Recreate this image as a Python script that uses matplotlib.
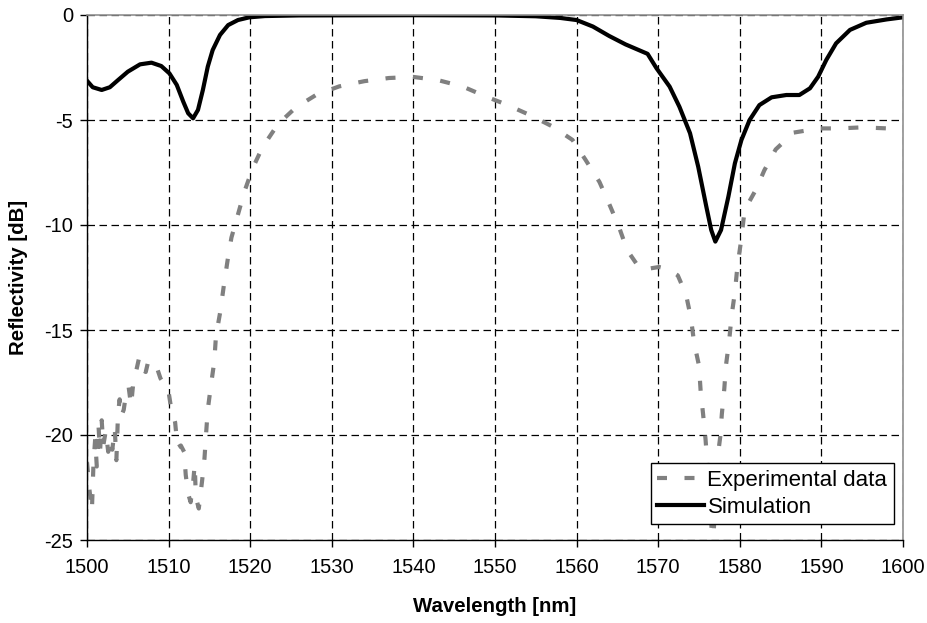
import matplotlib
matplotlib.use("Agg")
import matplotlib.pyplot as plt
import numpy as np

plt.rcParams['font.family'] = ['Liberation Sans', 'DejaVu Sans']
plt.rcParams['axes.unicode_minus'] = False

exp_wl = [1500.0, 1500.3, 1500.6, 1500.8, 1501.0, 1501.2, 1501.4, 1501.6, 1501.8, 1502.0,
          1502.3, 1502.6, 1502.9, 1503.1, 1503.4, 1503.6, 1503.8, 1504.0, 1504.2, 1504.5,
          1504.8, 1505.1, 1505.4, 1505.7, 1506.0, 1506.4, 1506.8, 1507.2, 1507.5, 1508.0,
          1508.4, 1509.0, 1509.5, 1509.9, 1510.3, 1510.8, 1511.1, 1511.5, 1511.9, 1512.1,
          1512.4, 1512.7, 1513.0, 1513.2, 1513.3, 1513.5, 1513.7, 1514.1, 1514.4, 1514.6,
          1514.8, 1515.2, 1515.6, 1515.8, 1516.3, 1516.8, 1517.3, 1517.7, 1518.5, 1519.3,
          1520.3, 1521.5, 1523.4, 1525.6, 1528.1, 1530.9, 1534.0, 1537.0, 1540.0, 1543.0,
          1546.0, 1549.0, 1551.3, 1554.2, 1557.0, 1559.5, 1561.1, 1562.8, 1564.0, 1565.2,
          1566.2, 1567.7, 1568.5, 1570.1, 1571.2, 1572.4, 1573.4, 1574.0, 1574.4, 1575.0,
          1575.2, 1575.5, 1575.8, 1576.1, 1576.4, 1576.7, 1577.0, 1577.2, 1577.6, 1577.8,
          1578.1, 1578.3, 1578.7, 1579.0, 1579.4, 1579.7, 1580.1, 1580.5, 1581.0, 1582.0,
          1583.0, 1584.4, 1586.6, 1589.7, 1592.2, 1595.0, 1598.1, 1599.5]
exp_db = [-21.3, -22.6, -23.6, -21.3, -20.2, -21.5, -19.5, -20.8, -19.3, -20.5,
          -19.8, -20.8, -20.2, -20.7, -19.7, -21.2, -19.0, -18.3, -19.1, -18.8,
          -18.0, -17.7, -18.6, -17.4, -17.0, -16.3, -16.9, -17.0, -16.5, -16.6,
          -16.6, -17.3, -17.6, -17.7, -18.7, -19.4, -20.6, -20.5, -20.8, -21.9,
          -22.8, -23.2, -22.3, -21.4, -22.5, -23.2, -23.5, -22.2, -21.1, -19.9,
          -18.8, -17.6, -16.5, -15.3, -14.2, -12.8, -11.5, -10.6, -9.5, -8.4,
          -7.3, -6.3, -5.2, -4.4, -3.8, -3.4, -3.15, -3.0, -2.95, -3.1,
          -3.4, -3.9, -4.25, -4.75, -5.3, -5.95, -6.9, -7.95, -9.0, -10.1,
          -11.2, -12.05, -12.1, -12.0, -12.1, -12.4, -13.3, -14.4, -15.6, -16.7,
          -17.9, -19.0, -20.2, -21.8, -23.5, -25.5, -23.0, -21.3, -20.1, -19.0,
          -17.8, -16.7, -15.5, -14.3, -13.2, -12.0, -10.9, -9.6, -9.0, -8.3,
          -7.4, -6.4, -5.6, -5.4, -5.4, -5.35, -5.4, -5.35]

# simulation
sim_wl = [1500.0, 1500.7, 1501.8, 1502.8, 1503.8, 1505.0, 1506.5, 1507.9, 1509.1, 1510.1,
          1511.0, 1511.8, 1512.4, 1513.0, 1513.6, 1514.2, 1514.8, 1515.4, 1516.3, 1517.3,
          1518.5, 1519.9, 1521.8, 1526.0, 1540.0, 1550.0, 1555.0, 1558.0, 1560.0, 1562.0,
          1564.0, 1566.0, 1568.7, 1569.8, 1571.4, 1572.6, 1573.9, 1574.9, 1575.9, 1576.5,
          1577.0, 1577.7, 1578.6, 1579.4, 1580.2, 1581.2, 1582.4, 1583.9, 1585.7, 1587.3,
          1588.6, 1589.6, 1590.6, 1591.8, 1593.5, 1595.5, 1598.0, 1600.0]
sim_db = [-3.13, -3.44, -3.57, -3.44, -3.1, -2.7, -2.35, -2.27, -2.43, -2.78,
          -3.33, -4.13, -4.68, -4.92, -4.52, -3.57, -2.46, -1.67, -0.95, -0.48,
          -0.24, -0.11, -0.05, -0.02, -0.01, -0.02, -0.06, -0.14, -0.24, -0.55,
          -1.0, -1.4, -1.85, -2.54, -3.41, -4.37, -5.63, -7.22, -9.13, -10.24,
          -10.79, -10.24, -8.65, -7.06, -5.95, -5.0, -4.29, -3.92, -3.81, -3.81,
          -3.49, -2.94, -2.14, -1.35, -0.71, -0.37, -0.21, -0.11]

fig = plt.figure(figsize=(9.28, 6.23), dpi=100)
ax = fig.add_axes([87/928, 1-540/623, (903-87)/928, (540-15)/623])

ax.plot(exp_wl, exp_db, color='#808080', lw=3, linestyle=(0, (2.4, 4.2)),
        label='Experimental data')
ax.plot(sim_wl, sim_db, color='black', lw=3, label='Simulation')

ax.set_xlim(1500, 1600)
ax.set_ylim(-25, 0)
ax.set_xticks(np.arange(1500, 1601, 10))
ax.set_yticks(np.arange(-25, 1, 5))
ax.grid(True, color='black', lw=0.9, linestyle=(0, (6, 3.6)))
ax.tick_params(labelsize=14.5, direction='out', length=5, width=1, color='black')
ax.tick_params(axis='x', pad=8)
ax.tick_params(axis='y', pad=5)

for s in ['top', 'right']:
    ax.spines[s].set_color('#909090')
    ax.spines[s].set_linewidth(1.2)
for s in ['left', 'bottom']:
    ax.spines[s].set_color('black')
    ax.spines[s].set_linewidth(1)

ax.set_xlabel('Wavelength [nm]', fontsize=14.7, fontweight='bold', labelpad=14)
ax.set_ylabel('Reflectivity [dB]', fontsize=14.7, fontweight='bold', labelpad=12)

leg = ax.legend(loc='lower right', bbox_to_anchor=(0.989, 0.03), fontsize=16,
                frameon=True, fancybox=False, borderpad=0.3, labelspacing=0.25,
                handlelength=2.1, handletextpad=0.15, borderaxespad=0)
leg.get_frame().set_edgecolor('black')
leg.get_frame().set_linewidth(1)
leg.get_frame().set_alpha(1)

fig.savefig('out.png', dpi=100)
